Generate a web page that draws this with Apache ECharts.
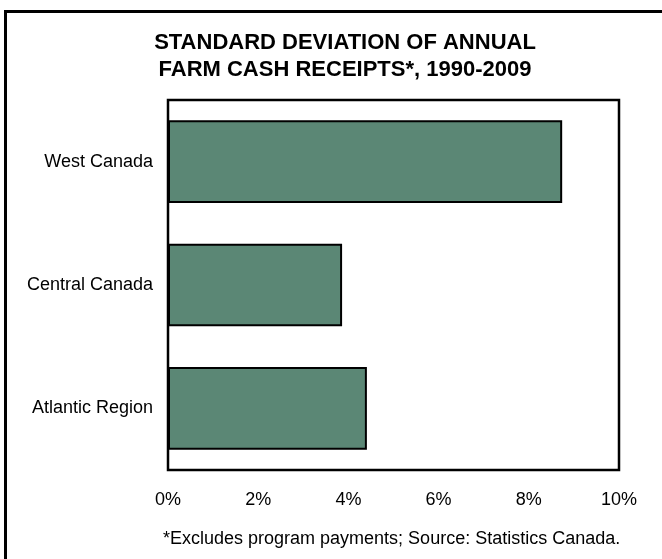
<!DOCTYPE html>
<html>
<head>
<meta charset="utf-8">
<script src="https://cdn.jsdelivr.net/npm/echarts@6/dist/echarts.min.js"></script>
<style>
  html, body { margin: 0; padding: 0; background: #fff; }
  #chart { width: 662px; height: 559px; }
</style>
</head>
<body>
<div id="chart"></div>
<script>
var regions = ['Atlantic Region', 'Central Canada', 'West Canada'];
var stdDev = [4.41, 3.86, 8.74];
var xTicks = { min: 0, max: 10, step: 2 };

var myChart = echarts.init(document.getElementById('chart'));
var font = 'Liberation Sans, Arial, sans-serif';

myChart.setOption({
  backgroundColor: '#fff',
  animation: false,
  title: {
    text: 'STANDARD DEVIATION OF ANNUAL\nFARM CASH RECEIPTS*, 1990-2009',
    left: 345,
    top: 29,
    textAlign: 'center',
    padding: 0,
    textStyle: {
      fontFamily: font,
      fontSize: 22,
      fontWeight: 'bold',
      color: '#000',
      lineHeight: 27
    }
  },
  graphic: [{
    type: 'rect',
    shape: { x: 5.5, y: 11.5, width: 700, height: 600 },
    style: { fill: 'none', stroke: '#000', lineWidth: 3 },
    silent: true
  }, {
    type: 'text',
    left: 163,
    top: 530,
    style: {
      text: '*Excludes program payments; Source: Statistics Canada.',
      fontFamily: font,
      fontSize: 18,
      fill: '#000'
    }
  }],
  grid: {
    left: 168,
    right: 43,
    top: 100,
    bottom: 89,
    show: true,
    borderColor: '#000',
    borderWidth: 2.5,
    backgroundColor: '#fff'
  },
  xAxis: {
    type: 'value',
    min: xTicks.min,
    max: xTicks.max,
    interval: xTicks.step,
    axisLine: { show: false },
    axisTick: { show: false },
    splitLine: { show: false },
    axisLabel: {
      formatter: '{value}%',
      margin: 21,
      fontFamily: font,
      fontSize: 18,
      color: '#000'
    }
  },
  yAxis: {
    type: 'category',
    data: regions,
    axisLine: { show: false },
    axisTick: { show: false },
    splitLine: { show: false },
    axisLabel: {
      margin: 15,
      fontFamily: font,
      fontSize: 18,
      color: '#000'
    }
  },
  series: [{
    type: 'bar',
    data: stdDev,
    barCategoryGap: '33%',
    itemStyle: {
      color: '#5B8775',
      borderColor: '#000',
      borderWidth: 2
    }
  }]
});
</script>
</body>
</html>
